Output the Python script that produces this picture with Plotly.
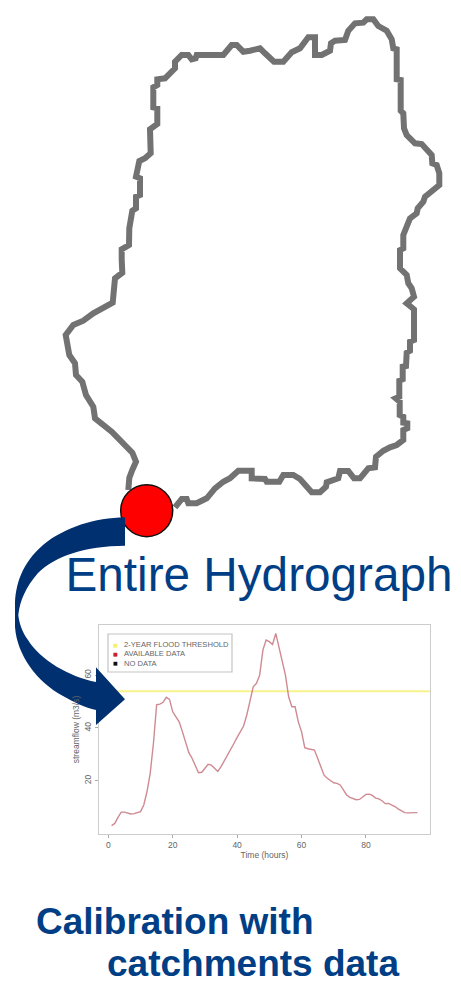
import plotly.graph_objects as go

# catchment outline, traced in image pixels, clockwise from the outlet
boundary_x = [128.3, 129.3, 132.3, 136, 132.3, 121.7, 111.7, 95, 93.3, 86, 82.3, 76, 75, 69.3, 66.7, 65.7, 73.3, 83.3,
              93.3, 105, 112.7, 115, 122.3, 121.7, 121.7, 129, 129.3, 132.3, 136, 136, 140, 140, 136, 139.3, 145, 150.7,
              150, 157.3, 157.3, 153.3, 153.3, 157.3, 157.3, 165, 175, 175, 181.7, 188.3, 191.7, 195.7, 196.7, 223.3,
              231.7, 236.7, 243.3, 250, 260, 265, 274, 283.3, 291.7, 300, 308.3, 315, 315, 321.7, 330, 331, 335, 345,
              348.3, 355, 363.3, 366.7, 373.3, 378.3, 386.7, 391.7, 393.3, 396.7, 396.7, 400.7, 400.7, 403.3, 404, 406.7,
              415, 421.7, 431.7, 432.3, 436.7, 439.3, 439.3, 425, 423.3, 417.7, 416.7, 410, 407.3, 403.3, 403.3, 400,
              400, 406.7, 408.3, 411.7, 414, 406.7, 414, 414, 410, 410, 406.7, 406, 402.7, 402.7, 399.3, 399.3, 395.7,
              399.7, 399.7, 403.3, 403.3, 407.3, 407.3, 403.3, 403.3, 396.7, 390, 383.3, 376, 375, 368.3, 360, 354,
              348.3, 340, 338.3, 326.7, 326, 320, 311.7, 300, 293.3, 283.3, 279.3, 266.7, 265, 251.7, 251.7, 250, 238.3,
              230, 223.3, 215, 206.7, 196.7, 188.3, 186.7, 181.7, 175]
boundary_y = [490, 478, 470, 461.7, 452.7, 442.7, 431.7, 418.3, 406.7, 395, 381.7, 375, 363.3, 355, 343.3, 335, 325, 320.7,
              313.3, 306, 302.7, 278.3, 272.7, 260, 249.3, 245, 228.3, 210.7, 208.3, 196.7, 195, 178.3, 176.7, 161, 158.3,
              153.3, 129.3, 124, 108.3, 107.3, 87.3, 85, 79.3, 78.3, 68.3, 61.7, 55, 55, 59.3, 58.3, 55, 55, 45, 45, 51.7,
              50.7, 48.3, 53.3, 61.7, 61.7, 52.3, 48.3, 37.3, 37.3, 55, 55, 50.7, 43.3, 40.7, 40, 30.7, 23.3, 22.7, 19.3,
              19.3, 26, 30.7, 39.3, 48.3, 49.3, 79.3, 80, 110.7, 113.3, 128.3, 135, 143.3, 144, 155, 163.3, 165, 173.3,
              185, 196.7, 201.7, 208.3, 213.3, 218.3, 226.7, 235, 248.3, 250, 268.3, 275, 283.3, 288.3, 296.7, 303.3,
              309.3, 340, 341.7, 350.7, 352.7, 366, 366.7, 379.3, 380.7, 396.7, 398.3, 401.7, 415, 416.7, 422.7, 423.3,
              428.3, 430, 440, 445, 447.3, 450.7, 456.7, 467.3, 468.3, 478.3, 478.3, 471, 471, 478.3, 482.3, 486.7, 492.3,
              492.3, 479, 475, 475, 481.7, 481.7, 479, 478.3, 470.7, 470.7, 470.7, 478.3, 481.7, 488.3, 498.3, 503.3,
              503.3, 499, 499, 507.3]

hours = list(range(1, 97))
streamflow = [3.0, 3.8, 6.1, 8.1, 8.1, 7.8, 7.4, 7.5, 7.9, 8.3, 10.8, 15.8, 22.8, 34.1, 48.8, 49.0, 49.7, 51.6, 50.8, 46.1,
              44.2, 42.3, 38.6, 34.8, 30.6, 28.5, 25.9, 23.0, 23.2, 24.7, 26.2, 25.9, 24.7, 23.5, 25.3, 27.4, 29.5, 31.6,
              34.1, 36.4, 38.6, 40.7, 44.9, 49.9, 55.6, 56.9, 60.0, 69.5, 73.3, 72.7, 71.6, 75.8, 70.1, 65.1, 60.0, 51.8,
              48.0, 48.0, 42.3, 38.6, 32.5, 32.1, 31.9, 31.6, 28.5, 25.3, 22.1, 20.9, 19.9, 19.2, 19.0, 18.4, 16.5, 14.6,
              13.7, 13.1, 12.8, 12.9, 13.9, 14.8, 14.9, 14.4, 13.4, 13.1, 12.4, 11.3, 11.4, 10.9, 10.2, 9.3, 8.5, 7.9, 7.8,
              7.8, 7.8, 7.9]
flood_threshold = 53.9

legend_labels = ["2-YEAR FLOOD THRESHOLD", "AVAILABLE DATA", "NO DATA"]
legend_colors = ["#f4f06a", "#c8202c", "#111111"]

NAVY = "#00306f"
TEXT_BLUE = "#003e85"

fig = go.Figure()

fig.add_trace(go.Scatter(x=boundary_x, y=boundary_y, mode="lines",
                         line=dict(color="#727272", width=6), hoverinfo="skip"))
fig.add_trace(go.Scatter(x=[146.7], y=[510.7], mode="markers",
                         marker=dict(size=52, color="#ff0000", line=dict(color="#111111", width=1.5))))
fig.add_trace(go.Scatter(x=[259], y=[579], mode="text", text=["Entire Hydrograph"],
                         textfont=dict(family="Liberation Sans", size=47.7, color=TEXT_BLUE)))

fig.add_trace(go.Scatter(x=[-3, 100], y=[flood_threshold, flood_threshold], mode="lines", xaxis="x2", yaxis="y2",
                         line=dict(color="#f7f38a", width=2)))
fig.add_trace(go.Scatter(x=hours, y=streamflow, mode="lines", xaxis="x2", yaxis="y2",
                         line=dict(color="#cf8a92", width=1.4)))

arrow = ("M 125 517.3 C 95 518, 65 527, 43 545 C 22 563, 15 585, 15 606 L 15 627 "
         "C 17 655, 37 682, 63 696 C 74 702, 85 708, 96 710 L 96 725 L 125 699.3 L 96 667.3 L 96 682 "
         "C 70 677, 40 660, 28 640 C 22 632, 19 622, 18.3 615 C 20 600, 26 587, 38 573 "
         "C 55 556, 85 546, 125 545.7 Z")

shapes = [
    # chart picture sits over the bottom of the big title
    dict(type="rect", xref="x", yref="y", x0=60, x1=461, y0=602, y1=622, fillcolor="white", line_width=0, layer="above"),
    dict(type="rect", xref="x", yref="y", x0=108, x1=232, y0=634, y1=672, fillcolor="white",
         line=dict(color="#c4c4c4", width=1.2), layer="above"),
    dict(type="path", xref="x", yref="y", path=arrow, fillcolor=NAVY, line_width=0, layer="above"),
]

annotations = []
for row, (label, color) in enumerate(zip(legend_labels, legend_colors)):
    row_y = 644.5 + row * 9.3
    annotations.append(dict(x=115, y=row_y, xref="x", yref="y", text="■", showarrow=False,
                            font=dict(family="DejaVu Sans", size=5, color=color)))
    annotations.append(dict(x=122, y=row_y, xref="x", yref="y", text=label, showarrow=False, xanchor="left",
                            font=dict(family="Liberation Sans", size=7.6, color="#666666")))

for text, left, mid in [("Calibration with", 36, 921), ("catchments data", 107, 963)]:
    annotations.append(dict(x=left, y=mid, xref="x", yref="y", text=text, showarrow=False, xanchor="left",
                            xshift=-2, font=dict(family="Liberation Sans", size=37, color=TEXT_BLUE, weight="bold")))

axis_font = dict(family="Liberation Sans", size=8.5, color="#666666")
fig.update_layout(
    width=461,
    height=993,
    margin=dict(l=0, r=0, t=0, b=0),
    paper_bgcolor="white",
    plot_bgcolor="white",
    showlegend=False,
    shapes=shapes,
    annotations=annotations,
    xaxis=dict(domain=[0, 1], range=[0, 461], visible=False),
    yaxis=dict(domain=[0, 1], range=[993, 0], visible=False),
    xaxis2=dict(domain=[99 / 461, 430 / 461], range=[-2.9, 99.9], anchor="y2", showgrid=False, zeroline=False,
                showline=True, mirror=True, linecolor="#cccccc", linewidth=1.3, ticks="outside", ticklen=3,
                tickcolor="#aaaaaa", tickvals=[0, 20, 40, 60, 80], tickfont=axis_font,
                title=dict(text="Time (hours)", font=axis_font, standoff=2)),
    yaxis2=dict(domain=[159 / 993, 368 / 993], range=[-0.2, 79], anchor="x2", showgrid=False, zeroline=False,
                showline=True, mirror=True, linecolor="#cccccc", linewidth=1.3, ticks="outside", ticklen=3,
                tickcolor="#aaaaaa", tickvals=[20, 40, 60], tickangle=-90, tickfont=axis_font,
                title=dict(text="streamflow (m3/s)", font=axis_font, standoff=2)),
)

fig.write_html("out.html", config={"displayModeBar": False},
               post_script="document.body.style.margin='0';document.body.style.overflow='hidden';")
